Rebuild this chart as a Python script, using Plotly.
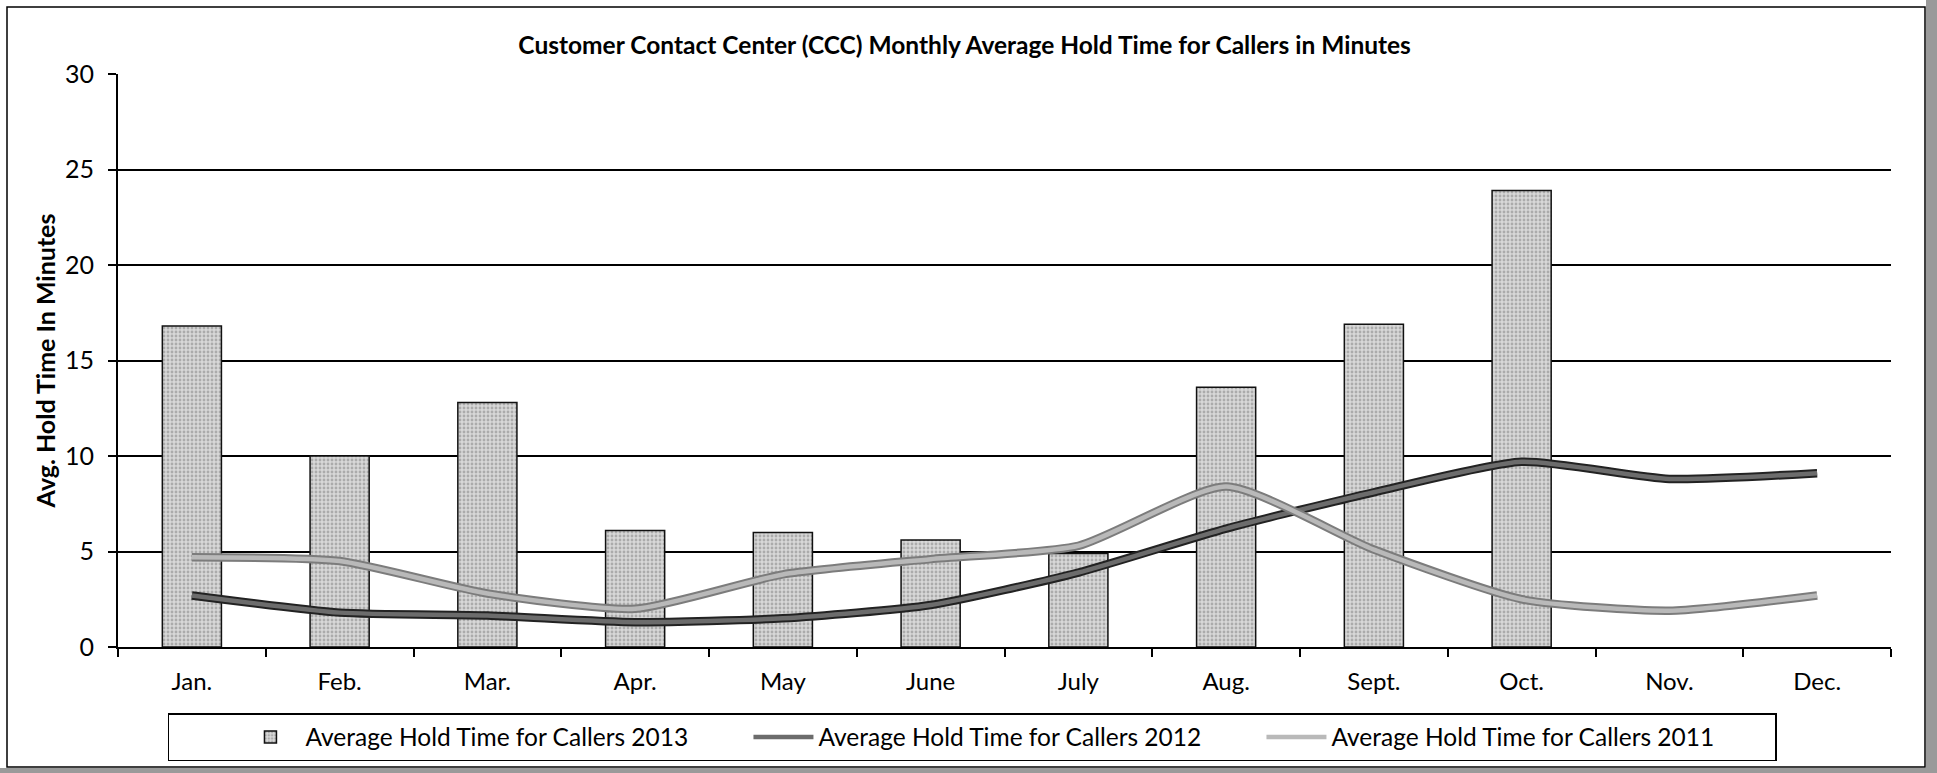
import plotly.graph_objects as go

# Monthly average hold time (minutes) at the Customer Contact Center
months = ["Jan.", "Feb.", "Mar.", "Apr.", "May", "June",
          "July", "Aug.", "Sept.", "Oct.", "Nov.", "Dec."]
hold_2013 = [16.8, 10.0, 12.8, 6.1, 6.0, 5.6, 4.9, 13.6, 16.9, 23.9, None, None]
hold_2012 = [2.7, 1.8, 1.65, 1.3, 1.5, 2.2, 3.9, 6.2, 8.1, 9.7, 8.8, 9.1]
hold_2011 = [4.7, 4.5, 2.8, 2.0, 3.8, 4.6, 5.3, 8.4, 5.1, 2.5, 1.9, 2.7]
y_ticks = [0, 5, 10, 15, 20, 25, 30]

FONT = "Lato"
W, H = 1937, 773
L, R, T, B = 118, 46, 74, 126
plot_w = W - L - R
plot_h = H - T - B


def px_x(x):
    return (x - L) / plot_w


def px_y(y):
    return (H - B - y) / plot_h


fig = go.Figure()

fig.add_trace(go.Bar(
    x=months, y=hold_2013, name="Average Hold Time for Callers 2013",
    width=0.4,
    marker=dict(
        color="#cfcfcf",
        line=dict(color="#111111", width=1.5),
        pattern=dict(shape=".", fgcolor="#7e7e7e", bgcolor="#d8d8d8",
                     size=4, solidity=0.4),
    ),
))


def outlined_line(values, name, edge, core):
    # a wide dark stroke under a narrower light one gives the rimmed line look
    fig.add_trace(go.Scatter(
        x=months, y=values, mode="lines", name=name, legendgroup=name,
        showlegend=False, hoverinfo="skip",
        line=dict(color=edge, width=8.5, shape="spline", smoothing=0.6),
    ))
    fig.add_trace(go.Scatter(
        x=months, y=values, mode="lines", name=name, legendgroup=name,
        line=dict(color=core, width=4.5, shape="spline", smoothing=0.6),
    ))


outlined_line(hold_2012, "Average Hold Time for Callers 2012", "#222222", "#6c6c6c")
outlined_line(hold_2011, "Average Hold Time for Callers 2011", "#7c7c7c", "#b9b9b9")

fig.update_layout(
    width=W, height=H,
    margin=dict(l=L, r=R, t=T, b=B),
    paper_bgcolor="white", plot_bgcolor="white",
    font=dict(family=FONT, size=24, color="black"),
    bargap=0.6,
    showlegend=True,
    title=dict(
        text="<b>Customer Contact Center (CCC) Monthly Average Hold Time for Callers in Minutes</b>",
        x=0.498, xref="container", xanchor="center",
        y=1 - 45 / H, yref="container", yanchor="middle",
        font=dict(family=FONT, size=24.5, color="black"),
    ),
    legend=dict(
        orientation="h",
        x=px_x(972), xanchor="center",
        y=px_y(713), yanchor="top",
        bgcolor="white", bordercolor="black", borderwidth=1.5,
        font=dict(family=FONT, size=24.5),
        title=dict(text="\u00a0" * 9, side="left", font=dict(family=FONT, size=24.5)),
        itemwidth=60,
        entrywidth=438,
        traceorder="normal",
    ),
    xaxis=dict(
        type="category",
        showline=True, linecolor="black", linewidth=2,
        ticks="outside", tickson="boundaries", ticklen=8,
        tickcolor="black", tickwidth=2,
        showgrid=False, zeroline=False,
        tickfont=dict(family=FONT, size=24),
        ticklabelstandoff=12,
    ),
    yaxis=dict(
        range=[0, 30], tickvals=y_ticks,
        showline=True, linecolor="black", linewidth=2,
        ticks="outside", ticklen=8, tickcolor="black", tickwidth=2,
        showgrid=True, gridcolor="black", gridwidth=2,
        zeroline=False,
        tickfont=dict(family=FONT, size=25),
        ticklabelstandoff=9,
        title=dict(text="<b>Avg. Hold Time In Minutes</b>",
                   font=dict(family=FONT, size=25), standoff=2),
    ),
)

# chart-area border and the grey page edges along the right and bottom
fig.add_shape(type="rect", xref="paper", yref="paper",
              x0=px_x(7), x1=px_x(1925), y0=px_y(767), y1=px_y(7),
              line=dict(color="black", width=1.5), layer="below")
fig.add_shape(type="rect", xref="paper", yref="paper",
              x0=px_x(1926), x1=px_x(1937), y0=px_y(773), y1=px_y(0),
              line=dict(width=0), fillcolor="#9a9a9a", layer="below")
fig.add_shape(type="rect", xref="paper", yref="paper",
              x0=px_x(0), x1=px_x(1937), y0=px_y(773), y1=px_y(768),
              line=dict(width=0), fillcolor="#9a9a9a", layer="below")

fig.write_html("out.html")
